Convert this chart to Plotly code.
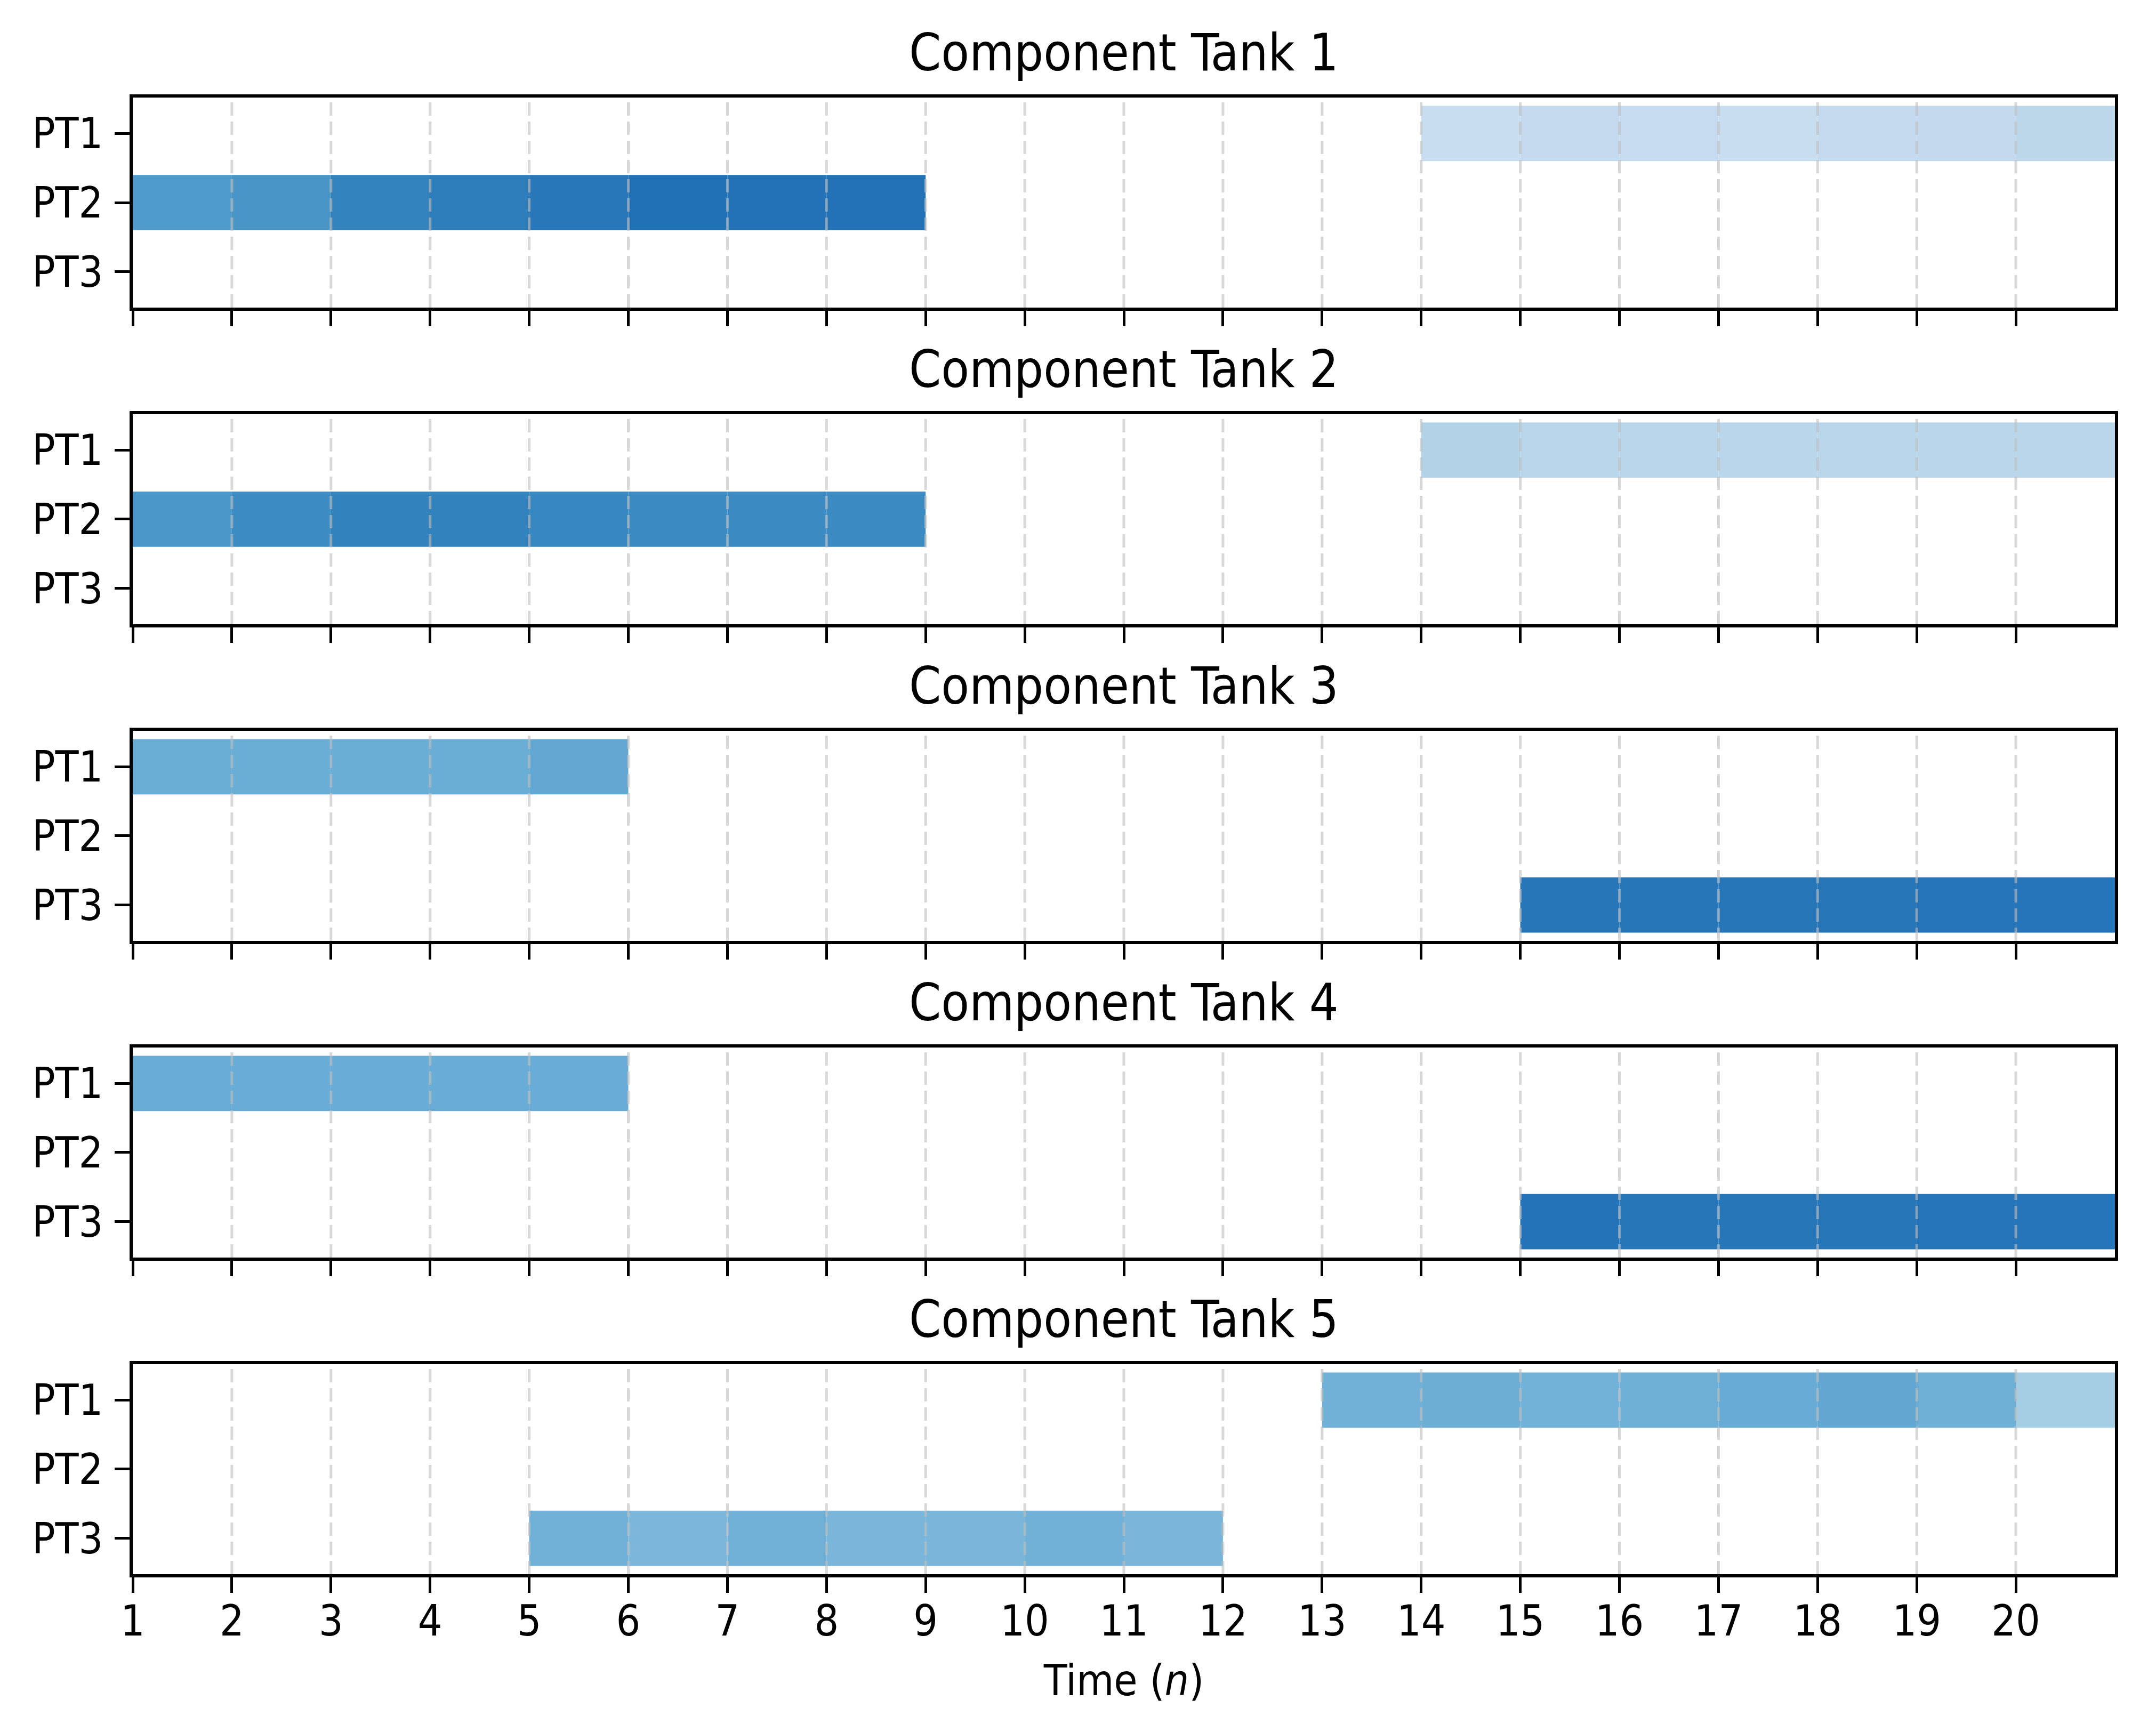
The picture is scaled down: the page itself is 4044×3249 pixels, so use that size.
import plotly.graph_objects as go
from plotly.subplots import make_subplots

# Gantt-like schedule of product types in each component tank

tanks = ['Component Tank 1', 'Component Tank 2', 'Component Tank 3',
         'Component Tank 4', 'Component Tank 5']
products = ['PT1', 'PT2', 'PT3']
time_ticks = list(range(1, 21))

# one row per task: tank number, product, start and end time
task_tank = [1, 1, 2, 2, 3, 3, 4, 4, 5, 5]
task_product = ['PT1', 'PT2', 'PT1', 'PT2', 'PT1', 'PT3', 'PT1', 'PT3', 'PT1', 'PT3']
task_start = [14, 1, 14, 1, 1, 15, 1, 15, 13, 5]
task_end = [21, 9, 21, 9, 6, 21, 6, 21, 21, 12]

# colour of each unit time step inside a task
task_colors = [
    ['#c8ddf0', '#c4daee', '#c6dbef', '#c8ddf0', '#c4daee', '#c2d9ee', '#bdd7ea'],
    ['#4f9bcb', '#4896c6', '#3383be', '#2e7ebc', '#2877b8', '#2171b5', '#2372b6', '#2272b5'],
    ['#b2d2e8', '#bad6ea', '#bad6ea', '#bad6ea', '#bad6ea', '#bad6ea', '#bad6ea'],
    ['#4a98c9', '#3d8bc3', '#3282be', '#3282be', '#3787c0', '#3b8ac2', '#3c8ac2', '#3c8ac2'],
    ['#6aaed6', '#6aaed6', '#6aaed6', '#6aaed6', '#63a8d3'],
    ['#2776b8', '#2776b8', '#2776b8', '#2776b8', '#2474b7', '#2474b7'],
    ['#69acd5', '#69acd5', '#69acd5', '#69acd5', '#69acd5'],
    ['#2373b6', '#2676b8', '#2676b8', '#2676b8', '#2474b7', '#2474b7'],
    ['#71b1d7', '#6daed5', '#73b2d8', '#6eafd6', '#68acd5', '#61a7d2', '#6fb0d7', '#a6cee3'],
    ['#71b1d7', '#7cb7da', '#71b1d7', '#7ab6d9', '#7ab6d9', '#71b1d7', '#7ab6d9'],
]

FONT = 'DejaVu Sans Condensed, Liberation Sans Narrow, Liberation Sans, sans-serif'

fig = make_subplots(rows=5, cols=1, shared_xaxes=True, vertical_spacing=0.0722)

for i in range(len(task_tank)):
    steps = list(range(task_start[i], task_end[i]))
    fig.add_trace(go.Bar(y=[task_product[i]] * len(steps),
                         x=[1] * len(steps),
                         base=steps,
                         orientation='h',
                         width=0.8,
                         marker=dict(color=task_colors[i], line=dict(width=0)),
                         showlegend=False),
                  row=task_tank[i], col=1)

# dashed grid drawn on top of the bars
for t in time_ticks[1:]:
    fig.add_vline(x=t, row='all', col=1, layer='above',
                  line=dict(color='rgba(190,190,190,0.6)', width=5, dash='25px,11px'))

for r in range(1, 6):
    fig.update_xaxes(range=[1, 21], tickvals=time_ticks, ticks='outside',
                     ticklen=29, tickwidth=5, tickcolor='black', ticklabelstandoff=-16,
                     showline=True, linewidth=5.5, linecolor='black', mirror=True,
                     showgrid=False, zeroline=False,
                     tickfont=dict(size=80, color='black', family=FONT),
                     row=r, col=1)
    fig.update_yaxes(type='category', categoryorder='array', categoryarray=products,
                     range=[2.52, -0.52], ticks='outside',
                     ticklen=28, tickwidth=5, tickcolor='black', ticklabelstandoff=6,
                     showline=True, linewidth=5.5, linecolor='black', mirror=True,
                     showgrid=False, zeroline=False,
                     tickfont=dict(size=80, color='black', family=FONT),
                     row=r, col=1)
    dom = fig.layout['yaxis' + ('' if r == 1 else str(r))].domain
    fig.add_annotation(text=tanks[r - 1], xref='paper', yref='paper',
                       x=0.5, y=dom[1], xanchor='center', yanchor='middle', yshift=84,
                       showarrow=False, font=dict(size=96, color='black', family=FONT))

fig.update_xaxes(title=dict(text='Time (<i>n</i>)', standoff=40,
                            font=dict(size=80, color='black', family=FONT)),
                 row=5, col=1)

fig.update_layout(width=4044, height=3249, barmode='overlay',
                  plot_bgcolor='white', paper_bgcolor='white',
                  margin=dict(l=241, r=85, t=175, b=304))

fig.write_html('out.html')
